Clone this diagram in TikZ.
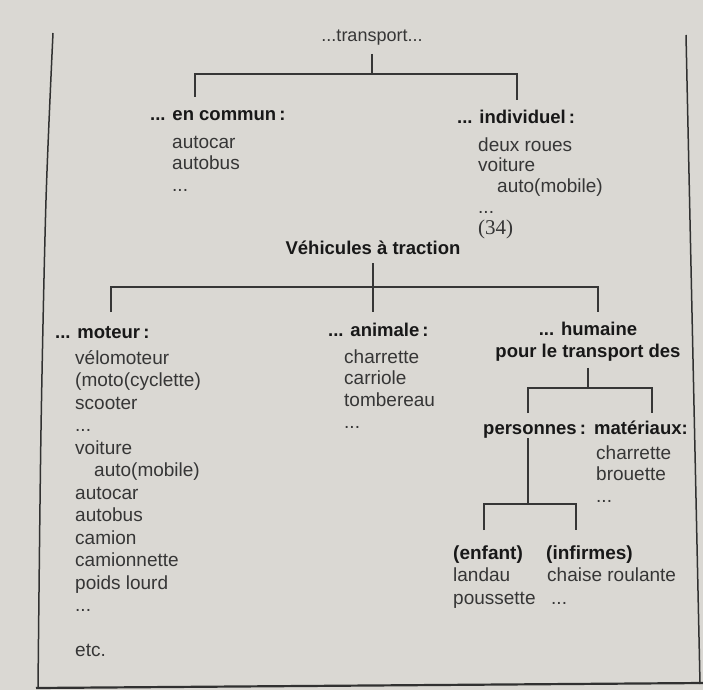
\documentclass[tikz,border=0pt]{standalone}
\usepackage{fontspec}
\setmainfont{Liberation Sans}
\newfontfamily\serifnum{Liberation Serif}
\definecolor{bg}{RGB}{218,216,211}
\definecolor{ink}{RGB}{54,54,54}
\definecolor{inkb}{RGB}{24,24,24}
\newcommand\mylist[2]{\fontsize{19}{#1}\selectfont\begin{tabular}[t]{@{}l@{}}#2\end{tabular}}
\tikzset{
  reg/.style={inner sep=0pt, anchor=base west, text=ink},
  hd/.style={inner sep=0pt, anchor=base west, text=inkb, font=\bfseries\fontsize{18.5}{22}\selectfont},
  hdc/.style={inner sep=0pt, anchor=base, text=inkb, font=\bfseries\fontsize{18.5}{22}\selectfont},
  ln/.style={draw=ink, line width=1.3pt},
  frame/.style={draw=ink!90!black, line width=1.5pt}
}
\begin{document}
\begin{tikzpicture}[x=1pt,y=-1pt]
\useasboundingbox (0,0) rectangle (703,690);
\fill[bg] (0,0) rectangle (703,690);
% frame
\draw[frame] plot[smooth] coordinates {(53,33) (46,200) (41,430) (38,688)};
\draw[frame] (686,35) -- (700,684);
\draw[frame, line width=2.2pt] (36,688) -- (703,683);

% top tree
\node[inner sep=0pt, anchor=base, text=ink, font=\fontsize{18}{20}\selectfont] (tr) at (372,42) {...transport...};
\node[hd] (commun) at (150,121) {... en commun\,:};
\node[reg] (communL) at (172,148) {\mylist{21.5}{autocar\\autobus\\...}};
\node[hd] (indiv) at (457,124) {... individuel\,:};
\node[reg] (indivL) at (478,151) {\mylist{20.8}{deux roues\\voiture\\\hspace*{19pt}auto(mobile)\\...\\{\serifnum\fontsize{21}{20.8}\selectfont (34)}}};

\coordinate (j1) at (372,74);
\coordinate (d1a) at (195,97);
\coordinate (d1b) at (517,100);
\draw[ln, shorten <=8pt] (tr) -- (j1);
\draw[ln] (d1a) |- (j1) -| (d1b);

% second tree
\node[hdc] (veh) at (373,254) {Véhicules à traction};
\node[hd] (moteur) at (55,338) {... moteur\,:};
\node[reg] (moteurL) at (75,364) {\mylist{22.5}{vélomoteur\\(moto(cyclette)\\scooter\\...\\voiture\\\hspace*{19pt}auto(mobile)\\autocar\\autobus\\camion\\camionnette\\poids lourd\\...\\ \\etc.}};
\node[hd] (animale) at (328,336) {... animale\,:};
\node[reg] (animaleL) at (344,363) {\mylist{21.7}{charrette\\carriole\\tombereau\\...}};
\node[hdc] (hum) at (588,335) {\begin{tabular}[t]{@{}c@{}}... humaine\\pour le transport des\end{tabular}};

\coordinate (j2) at (373,287);
\coordinate (d2a) at (111,312);
\coordinate (d2b) at (373,312);
\coordinate (d2c) at (598,312);
\draw[ln, shorten <=9pt] (veh) -- (d2b);
\draw[ln] (d2a) |- (j2) -| (d2c);

% third tree
\node[hd] (pers) at (483,434) {personnes\,:};
\node[hd] (mat) at (594,434) {matériaux:};
\node[reg] (matL) at (596,459) {\mylist{21.5}{charrette\\brouette\\...}};

\coordinate (j3) at (588,388);
\coordinate (d3a) at (528,413);
\coordinate (d3b) at (652,413);
\draw[ln, shorten <=4pt] (hum) -- (j3);
\draw[ln] (d3a) |- (j3) -| (d3b);

% fourth tree
\node[reg] (enfant) at (453,559) {\mylist{22.5}{\textbf{\color{inkb}(enfant)}\\landau\\poussette}};
\node[reg] (infirmes) at (546,559) {\mylist{22.5}{\textbf{\color{inkb}(infirmes)}\\\hspace*{1pt}chaise roulante\\\hspace*{5pt}...}};

\coordinate (j4) at (528,504);
\coordinate (d4a) at (484,530);
\coordinate (d4b) at (576,530);
\draw[ln] (j4 |- pers.south) -- (j4);
\draw[ln] (d4a) |- (j4) -| (d4b);
\end{tikzpicture}
\end{document}
